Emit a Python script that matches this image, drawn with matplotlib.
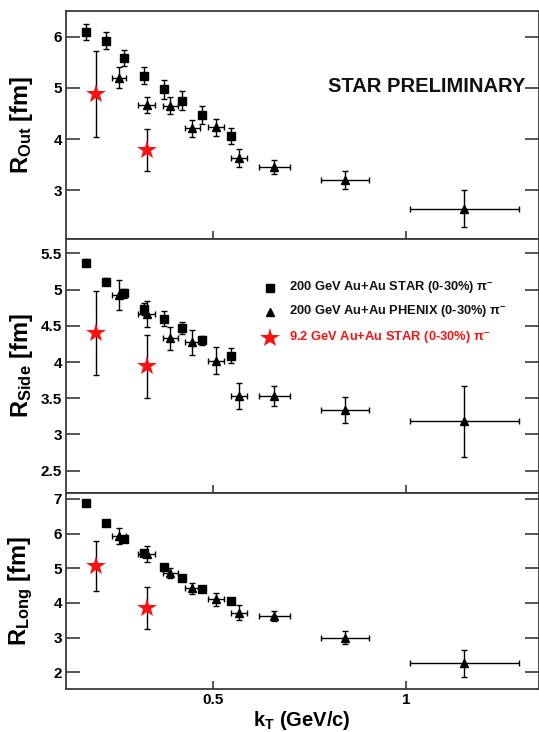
import matplotlib
matplotlib.use('Agg')
import matplotlib.pyplot as plt
from matplotlib.ticker import FuncFormatter

plt.rcParams['font.family'] = ['Liberation Sans', 'DejaVu Sans']
plt.rcParams['font.weight'] = 'bold'
plt.rcParams['mathtext.fontset'] = 'custom'
plt.rcParams['mathtext.rm'] = 'Liberation Sans'
plt.rcParams['mathtext.it'] = 'Liberation Sans:italic'
plt.rcParams['mathtext.bf'] = 'Liberation Sans:bold'
plt.rcParams['mathtext.sf'] = 'Liberation Sans'

# ---------------- data ----------------
# 200 GeV Au+Au STAR (0-30%)
kt_star200 = [0.171, 0.222, 0.270, 0.321, 0.372, 0.420, 0.472, 0.546]
rout_star200 = [6.09, 5.92, 5.58, 5.24, 4.97, 4.75, 4.47, 4.06]
rout_star200_err = [0.16, 0.17, 0.16, 0.17, 0.19, 0.19, 0.17, 0.16]
rside_star200 = [5.37, 5.11, 4.95, 4.73, 4.60, 4.47, 4.30, 4.09]
rside_star200_err = [0.05, 0.05, 0.06, 0.08, 0.10, 0.08, 0.06, 0.10]
rlong_star200 = [6.87, 6.30, 5.84, 5.45, 5.05, 4.73, 4.40, 4.06]
rlong_star200_err = [0.06, 0.06, 0.07, 0.08, 0.08, 0.08, 0.07, 0.07]

# 200 GeV Au+Au PHENIX (0-30%)
kt_phenix = [0.257, 0.328, 0.389, 0.446, 0.508, 0.567, 0.658, 0.842, 1.151]
kt_phenix_err = [0.018, 0.022, 0.020, 0.020, 0.020, 0.021, 0.040, 0.062, 0.141]
rout_phenix = [5.20, 4.67, 4.65, 4.21, 4.23, 3.63, 3.46, 3.20, 2.64]
rout_phenix_err = [0.20, 0.16, 0.17, 0.16, 0.17, 0.18, 0.14, 0.17, 0.36]
rside_phenix = [4.93, 4.66, 4.33, 4.27, 4.02, 3.53, 3.53, 3.34, 3.18]
rside_phenix_err = [0.21, 0.18, 0.16, 0.17, 0.19, 0.18, 0.14, 0.18, 0.49]
rlong_phenix = [5.93, 5.41, 4.87, 4.42, 4.11, 3.72, 3.63, 3.00, 2.26]
rlong_phenix_err = [0.24, 0.24, 0.15, 0.15, 0.19, 0.22, 0.15, 0.19, 0.38]

# 9.2 GeV Au+Au STAR (0-30%)
kt_star9 = [0.197, 0.328]
rout_star9 = [4.88, 3.79]
rout_star9_err = [0.84, 0.41]
rside_star9 = [4.40, 3.94]
rside_star9_err = [0.58, 0.44]
rlong_star9 = [5.07, 3.85]
rlong_star9_err = [0.73, 0.60]

legend_labels = ['200 GeV Au+Au STAR (0-30%) π$^{-}$',
                 '200 GeV Au+Au PHENIX (0-30%) π$^{-}$',
                 '9.2 GeV Au+Au STAR (0-30%) π$^{-}$']
ylabels = ['R$_{\\mathbf{Out}}$ [fm]', 'R$_{\\mathbf{Side}}$ [fm]', 'R$_{\\mathbf{Long}}$ [fm]']
xlabel = 'k$_{\\mathbf{T}}$ (GeV/c)'
yticks = [[3, 4, 5, 6], [2.5, 3, 3.5, 4, 4.5, 5, 5.5], [2, 3, 4, 5, 6, 7]]
ylims = [(2.05, 6.5), (2.19, 5.70), (1.52, 7.17)]
xticks = [0.5, 1.0]

# ---------------- figure ----------------
W, H = 539, 732
fig = plt.figure(figsize=(W / 100, H / 100), dpi=100)
left = 66 / W
right = 538.5 / W
edges = [11, 239, 493, 689]

star200 = [(rout_star200, rout_star200_err), (rside_star200, rside_star200_err), (rlong_star200, rlong_star200_err)]
phenix = [(rout_phenix, rout_phenix_err), (rside_phenix, rside_phenix_err), (rlong_phenix, rlong_phenix_err)]
star9 = [(rout_star9, rout_star9_err), (rside_star9, rside_star9_err), (rlong_star9, rlong_star9_err)]

spine_col = '#3a3a3a'
axes = []
for i in range(3):
    top_px, bot_px = edges[i], edges[i + 1]
    ax = fig.add_axes([left, 1 - bot_px / H, right - left, (bot_px - top_px) / H])
    axes.append(ax)
    ax.set_xlim(0.119, 1.343)
    ax.set_ylim(*ylims[i])
    ax.set_xticks(xticks)
    ax.set_yticks(yticks[i])
    ax.yaxis.set_major_formatter(FuncFormatter(lambda v, p: '%g' % v))
    ax.xaxis.set_major_formatter(FuncFormatter(lambda v, p: '%g' % v))
    for s in ax.spines.values():
        s.set_linewidth(1.3)
        s.set_color(spine_col)
    ax.tick_params(axis='x', direction='in', length=6, width=1.2, color=spine_col,
                   top=False, bottom=True, labelbottom=(i == 2), labelsize=11, pad=3)
    ax.tick_params(axis='y', direction='in', length=10, width=1.2, color=spine_col,
                   left=True, right=True, labelsize=11, pad=3)
    for lab in ax.get_xticklabels() + ax.get_yticklabels():
        lab.set_fontweight('bold')

    y, e = star200[i]
    ax.errorbar(kt_star200, y, yerr=e, fmt='s', ms=6.2, color='black', ecolor='black',
                elinewidth=1.0, capsize=2.2, capthick=1.0, zorder=3)
    y, e = phenix[i]
    ax.errorbar(kt_phenix, y, yerr=e, xerr=kt_phenix_err, fmt='^', ms=5.5, color='black',
                ecolor='black', elinewidth=1.0, capsize=2.2, capthick=1.0, zorder=3)
    y, e = star9[i]
    ax.errorbar(kt_star9, y, yerr=e, fmt='none', ecolor='black',
                elinewidth=1.0, capsize=2.2, capthick=1.0, zorder=4)
    ax.plot(kt_star9, y, linestyle='none', marker='*', ms=15, color='#ff1010',
            markeredgewidth=0, zorder=5)

    ax.set_ylabel(ylabels[i], fontsize=17, fontweight='bold')
    ax.yaxis.set_label_coords(-0.066, 0.5)

axes[2].set_xlabel(xlabel, fontsize=14.5, fontweight='bold', labelpad=1)

# STAR PRELIMINARY
axes[0].text(0.5545, 0.667, 'STAR PRELIMINARY', transform=axes[0].transAxes,
             fontsize=14.5, fontweight='bold', ha='left', va='center', color='#111111')

# legend (middle panel)
axm = axes[1]
mx, tx = 0.432, 0.472
rows = [0.807, 0.713, 0.610]
axm.plot([mx], [rows[0]], marker='s', ms=6.2, color='black', linestyle='none',
         transform=axm.transAxes, clip_on=False)
axm.plot([mx], [rows[1]], marker='^', ms=5.5, color='black', linestyle='none',
         transform=axm.transAxes, clip_on=False)
axm.plot([mx], [rows[2]], marker='*', ms=15, color='#ff1010', markeredgewidth=0,
         linestyle='none', transform=axm.transAxes, clip_on=False)
cols = ['#111111', '#111111', '#ff1010']
for r, lab, c in zip(rows, legend_labels, cols):
    axm.text(tx, r, lab, transform=axm.transAxes, fontsize=9.3, fontweight='bold',
             ha='left', va='center', color=c)

fig.savefig('out.png', dpi=100)
